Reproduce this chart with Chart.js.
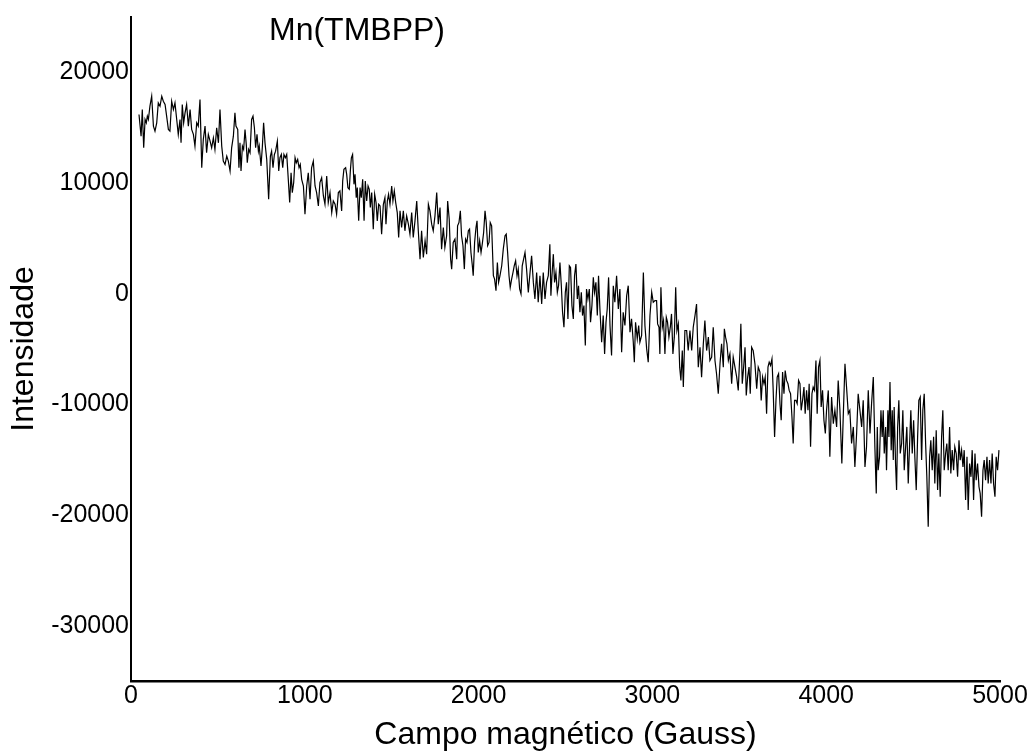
<!DOCTYPE html>
<html>
<head>
<meta charset="utf-8">
<title>Mn(TMBPP)</title>
<script src="https://cdn.jsdelivr.net/npm/chart.js@4/dist/chart.umd.min.js"></script>
<style>
	body { margin: 0; background: #fff; }
	canvas { display: block; }
</style>
</head>
<body>
<canvas id="epr-chart" width="1032" height="751"></canvas>
<script>
var titulo = "Mn(TMBPP)";
var tituloX = "Campo magnético (Gauss)";
var tituloY = "Intensidade";

var campoTicks = [0, 1000, 2000, 3000, 4000, 5000];
var intensTicks = [-30000, -20000, -10000, 0, 10000, 20000];

// campo magnético (G)
var campo = [
	46,58,65,73,81,88,94,100,109,119,129,138,148,157,167,177,186,196,205,215,
	224,234,244,253,263,272,282,288,295,303,311,320,330,340,349,359,368,378,387,397,
	407,416,426,435,445,455,464,474,483,493,503,512,522,531,541,551,560,570,579,589,
	598,604,614,621,627,633,641,648,656,664,669,677,685,694,702,710,717,725,733,738,
	748,756,763,771,781,792,802,809,817,825,832,842,850,857,865,873,880,888,896,905,
	913,921,928,936,944,951,959,967,974,982,992,1001,1011,1020,1030,1039,1049,1059,1068,1078,
	1087,1097,1107,1116,1126,1135,1145,1155,1164,1174,1183,1193,
	1202,1212,1218,1225,1235,1241,1248,1256,1262,1268,1275,1283,1289,1296,1302,1310,1318,1325,1333,1341,
	1348,1356,1364,1371,1377,1385,1394,1402,1410,1417,1425,1433,1442,1452,1461,1467,1475,1482,1490,1500,
	1507,1515,1523,1532,1540,1548,1557,1567,1576,1586,1596,1605,1615,1624,1634,1644,1653,1663,1672,1682,
	1692,1701,1711,1720,1730,1739,1749,1759,1768,1778,1787,1797,
	1806,1816,1822,1831,1839,1845,1854,1864,1874,1879,1887,1895,1902,1910,1918,1925,1933,1941,1948,1956,
	1964,1969,1977,1985,1991,1998,2006,2014,2021,2029,2037,2044,2052,2060,2067,2075,2085,2092,2100,2108,
	2115,2123,2133,2142,2152,2159,2167,2175,2182,2190,2198,2205,2213,2221,2228,2236,2244,2251,2259,2267,
	2276,2286,2296,2305,2315,2324,2334,2343,2353,2363,2372,2382,2391,2401,
	2410,2416,2422,2430,2437,2445,2453,2460,2468,2476,2483,2491,2499,2506,2514,2522,2529,2537,2545,2552,
	2560,2568,2575,2583,2591,2598,2606,2614,2621,2629,2637,2644,2652,2660,2667,2675,2683,2690,2698,2708,
	2717,2725,2733,2740,2748,2756,2765,2775,2784,2794,2804,2813,2823,2832,2842,2852,2861,2871,2880,2890,
	2896,2903,2913,2921,2928,2938,2948,2957,2967,2976,2986,2996,3005,
	3015,3024,3030,3038,3043,3049,3057,3064,3072,3080,3087,3095,3103,3110,3118,3126,3134,3141,3149,3157,
	3164,3172,3178,3187,3197,3206,3216,3226,3235,3245,3254,3264,3274,3283,3293,3302,3312,3322,3331,3341,
	3350,3360,3369,3379,3389,3398,3408,3414,3421,3429,3437,3446,3456,3465,3475,3485,3494,3504,3509,3517,
	3525,3533,3540,3548,3556,3563,3571,3580,3590,3600,3609,
	3619,3626,3634,3642,3649,3657,3665,3672,3680,3688,3695,3703,3711,3718,3726,3734,3741,3749,3757,3764,
	3772,3780,3787,3795,3803,3810,3818,3826,3833,3841,3849,3856,3864,3872,3879,3887,3895,3902,3910,3918,
	3925,3933,3941,3948,3956,3964,3971,3979,3987,3995,4002,4012,4021,4031,4041,4050,4060,4069,4079,4090,
	4098,4108,4117,4127,4136,4146,4156,4165,4175,4184,4194,4204,4213,4223,4232,4242,4252,4261,4271,
	4280,4288,4294,4299,4307,4315,4322,4328,4334,4342,4347,4355,4361,4367,4374,4380,4386,4391,4399,4405,
	4411,4418,4426,4434,4441,4449,4457,4464,4472,4480,4487,4495,4503,4510,4518,4526,4533,4541,4549,4556,
	4564,4572,4579,4587,4595,4602,4610,4618,4625,4633,4641,4648,4656,4664,4671,4679,4687,4694,4702,4710,
	4717,4725,4733,4740,4748,4756,4764,4771,4779,4787,4794,4802,4810,4817,4825,4833,4840,4848,4856,4863,
	4871,4879,4886,4894,4902,4909,4917,4925,4932,4940,4948,4955,4963,4971,4978,4986,4994
];

// intensidade (u.a.)
var intensidade = [
	16190,14230,16640,13180,15740,15440,16040,15740,16940,17840,15140,14690,15440,17240,16940,17840,17390,17090,16040,14840,
	14690,17390,16640,17240,15740,14390,15740,13630,17090,15440,16340,17090,15140,16640,14840,14390,13330,15440,15140,17540,
	11380,13930,15140,12730,14390,13780,13180,14080,13030,14990,13630,16640,13330,11980,11680,12430,11980,11080,13180,14230,
	16340,15140,14840,11380,13630,11080,13330,13030,14840,13330,11830,13030,12730,15740,16040,14990,13180,14390,12880,13330,
	11530,13330,15440,13630,12130,8530,12430,12880,11380,12580,12880,13780,11080,12280,12580,11380,12580,12280,12580,10330,
	8230,10930,9130,10030,12280,11830,12130,11380,11680,10330,9730,7180,9730,10930,8530,11380,11980,9730,9130,7930,
	10030,10480,8830,8080,10630,8230,9130,7330,8380,8080,7180,9130,
	9280,7480,10180,11230,11380,10780,9580,9430,11080,12280,12580,9880,10780,8680,9580,6580,9580,8680,10330,6580,
	10180,8380,9730,9430,7780,9130,5830,8980,8230,6580,8080,7930,5380,8080,8680,6280,8380,8980,8080,9730,
	8380,9280,8230,7330,5080,7480,5980,7480,5680,7030,6280,5380,7330,5080,6580,8380,5680,3120,5680,3270,
	4780,3570,8080,7480,6280,5680,7030,9130,6280,7780,4020,5980,
	4180,5230,8380,6730,3120,2220,4630,4930,3120,6130,6430,7480,5230,4330,2220,4930,4630,5680,5830,3720,
	2520,1620,4630,5980,6580,3720,4780,3720,4480,5530,7480,6430,4330,4630,6430,6130,1620,1320,270,2820,
	1020,1620,2520,4020,5230,5380,3720,1620,570,1320,1920,2520,2970,1620,2220,420,-30,2520,3120,3720,
	2220,120,1920,3420,1020,-480,1920,-780,1620,-930,1920,-480,1020,1620,
	4470,-180,1620,3570,1020,1920,120,720,2820,720,-1680,-3030,120,1020,-2280,2520,2370,-1080,-2280,1620,
	2670,-480,720,-1680,120,-1980,-1080,-4690,420,-480,420,-2580,-1080,1470,120,1020,-1980,1620,-1380,-4390,
	-1980,-5440,-2580,-1380,1470,-2880,-5590,720,-780,1620,-1380,420,-5290,-1680,-2880,-180,720,-3480,-2280,-4390,
	-6190,-2580,-4080,-2880,-4390,-3780,1920,-2880,-4990,-6190,-1980,120,-780,
	-630,-630,-2730,-3030,-5440,570,-3030,-2430,-5440,-2130,-2580,-3930,-3030,-1830,-5440,-3930,570,-3330,-2730,-6640,
	-7840,-5140,-8440,-3330,-3330,-5140,-3330,-5140,-3030,-1980,-930,-6640,-4840,-7540,-4530,-2430,-5140,-3930,-6040,-5740,
	-3030,-6040,-7240,-9040,-6340,-4530,-6640,-3180,-3930,-4530,-6040,-5440,-8140,-5740,-6640,-7540,-8740,-5140,-2730,-8140,
	-6640,-4840,-9190,-7540,-6640,-9040,-4840,-5140,-6340,-8590,-6640,
	-7090,-9640,-7540,-8140,-7540,-10840,-6640,-6190,-6490,-5890,-8740,-12940,-9640,-7540,-7240,-9940,-11440,-7090,-9040,-6940,
	-7840,-8140,-8740,-9040,-11140,-13540,-9640,-9640,-9940,-7840,-8140,-10540,-9640,-8440,-10840,-8740,-10540,-8140,-13840,-9040,
	-8440,-8740,-6040,-10840,-6640,-6040,-10240,-8740,-11440,-12640,-10540,-8740,-14740,-9340,-11740,-10540,-12040,-7840,-10540,-15350,
	-11140,-6340,-8440,-10840,-10540,-13540,-12040,-15650,-12640,-9040,-10540,-12040,-9640,-15650,-13840,-8740,-12640,-9940,-7540,
	-13840,-18050,-12040,-15950,-14740,-10540,-12940,-10540,-14440,-12040,-15950,-10540,-12940,-7990,-14140,-10540,-15040,-10240,-15340,-17750,
	-12040,-9640,-14440,-13540,-10540,-15950,-13840,-12040,-17150,-13540,-10540,-14440,-11440,-14740,-17750,-12940,-9640,-9340,-15040,-10540,
	-9040,-13540,-16550,-21050,-14740,-13240,-15950,-12940,-17150,-12340,-17750,-14440,-18350,-12940,-10540,-15950,-14440,-13540,-15950,-12040,
	-16250,-14140,-15950,-13840,-14440,-16550,-13240,-15040,-14140,-15650,-14140,-18650,-14740,-19550,-15350,-16550,-14140,-18650,-14440,-16850,
	-15350,-17450,-18050,-20150,-15950,-15040,-16850,-14740,-17150,-15040,-17150,-14440,-17150,-18350,-14740,-15950,-14140
];

Chart.defaults.font.family = "'Liberation Sans', Arial, sans-serif";
Chart.defaults.color = "#000";

var tituloPlugin = {
	id: 'tituloGrafico',
	afterDraw: function(chart) {
		var ctx = chart.ctx;
		ctx.save();
		ctx.font = "32px 'Liberation Sans', Arial, sans-serif";
		ctx.fillStyle = "#000";
		ctx.textAlign = "center";
		ctx.textBaseline = "middle";
		ctx.fillText(titulo, 357, 31);
		ctx.restore();
	}
};

function semVirgula(value) {
	return String(value);
}

desenhaEspectro();

function desenhaEspectro(){
	var pontos = campo.map(function(c, i) {
		return { x: c, y: intensidade[i] };
	});

	new Chart(document.getElementById("epr-chart"), {
		type: 'line',
		data: {
			datasets: [{
				label: titulo,
				data: pontos,
				borderColor: "#000",
				borderWidth: 1.2,
				pointRadius: 0,
				fill: false,
				tension: 0
			}]
		},
		options: {
			responsive: false,
			animation: false,
			layout: { padding: { left: 0, right: 32, top: 15, bottom: 0 } },
			plugins: {
				legend: { display: false },
				tooltip: { enabled: false }
			},
			scales: {
				x: {
					type: 'linear',
					min: 0,
					max: 5000,
					afterBuildTicks: function(scale) {
						scale.ticks = campoTicks.map(function(v) { return { value: v }; });
					},
					afterFit: function(scale) { scale.height = 70; },
					grid: { display: false, drawTicks: false },
					border: { display: true, color: "#000", width: 2.5 },
					ticks: { padding: 0, maxRotation: 0, font: { size: 25 }, callback: semVirgula },
					title: {
						display: true,
						text: tituloX,
						font: { size: 32, lineHeight: 1 },
						padding: { top: 0, bottom: 0 }
					}
				},
				y: {
					type: 'linear',
					min: -35000,
					max: 25000,
					afterBuildTicks: function(scale) {
						scale.ticks = intensTicks.map(function(v) { return { value: v }; });
					},
					afterFit: function(scale) { scale.width = 131; },
					grid: { display: false, drawTicks: false },
					border: { display: true, color: "#000", width: 2 },
					ticks: { padding: 2, font: { size: 25 }, callback: semVirgula },
					title: {
						display: true,
						text: tituloY,
						font: { size: 32, lineHeight: 1 },
						padding: { top: 8, bottom: 0 }
					}
				}
			}
		},
		plugins: [tituloPlugin]
	});
}
</script>
</body>
</html>
